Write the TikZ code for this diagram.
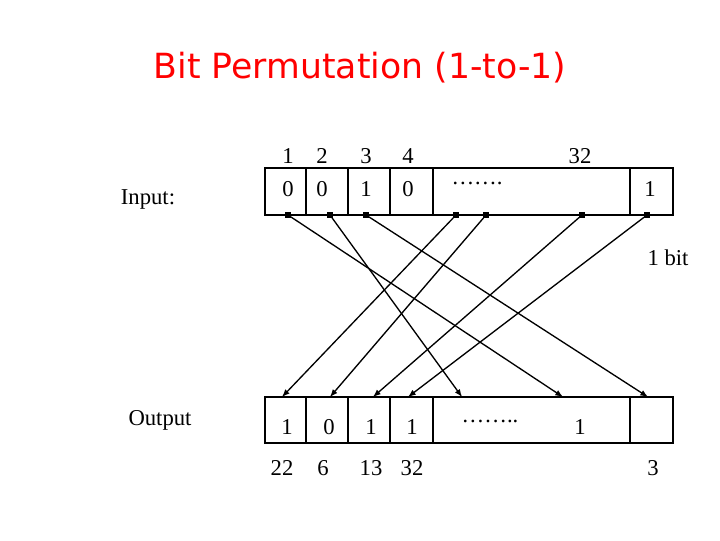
\documentclass[tikz,border=0pt]{standalone}
\usepackage{fontspec}
\setmainfont{Liberation Serif}
\newfontfamily\titlefont{DejaVu Sans}
\tikzset{
    lbl/.style={font=\fontsize{17}{19}\selectfont},
    pin/.style={fill,inner sep=0pt,minimum size=4pt},
    perm/.style={line width=1pt,-latex}
}
\begin{document}
\begin{tikzpicture}[x=0.75pt,y=-0.75pt]
    \useasboundingbox (0,0) rectangle (720,540);

    \node[red,font=\titlefont\fontsize{26}{30}\selectfont] (title) at (360,68) {Bit Permutation (1-to-1)};

    % input register
    \draw[line width=1.4pt] (265,168) rectangle (673,215);
    \foreach \x in {306,348,390,433,630}
        \draw[line width=1.4pt] (\x,168) -- (\x,215);
    \node[lbl] (inlbl) at (148,199) {Input:};
    \foreach \x/\n/\v in {288/1/0,322/2/0,366/3/1,408/4/0}
    {
        \node[lbl] (top\n) at (\x,156) {\n};
        \node[lbl] (in\n) at (\x,189) {\v};
    }
    \node[lbl] (top32) at (580,156) {32};
    \node[lbl] (indots) at (477,183) {\dots\dots.};
    \node[lbl] (in32) at (650,189) {1};

    % pins on the input register
    \foreach \x [count=\i] in {288,330,366,456,486,582,647}
        \node[pin] (p\i) at (\x,215) {};

    % output register
    \draw[line width=1.4pt] (265,397) rectangle (673,443);
    \foreach \x in {306,348,390,433,630}
        \draw[line width=1.4pt] (\x,397) -- (\x,443);
    \node[lbl] (outlbl) at (160,420) {Output};
    \foreach \x/\v [count=\i] in {287/1,329/0,371/1,412/1,580/1}
        \node[lbl] (out\i) at (\x,427) {\v};
    \node[lbl] (outdots) at (490,421) {\dots\dots..};
    \foreach \x/\n in {282/22,323/6,371/13,412/32,653/3}
        \node[lbl] (pos\n) at (\x,468) {\n};

    \node[lbl] (bit) at (668,258) {1 bit};

    % arrow targets on the output register
    \foreach \x [count=\i] in {282,330,373,408,462,563,648}
        \coordinate (q\i) at (\x,397);

    \draw[perm] (p1) -- (q6);
    \draw[perm] (p2) -- (q5);
    \draw[perm] (p3) -- (q7);
    \draw[perm] (p4) -- (q1);
    \draw[perm] (p5) -- (q2);
    \draw[perm] (p6) -- (q3);
    \draw[perm] (p7) -- (q4);
\end{tikzpicture}
\end{document}
